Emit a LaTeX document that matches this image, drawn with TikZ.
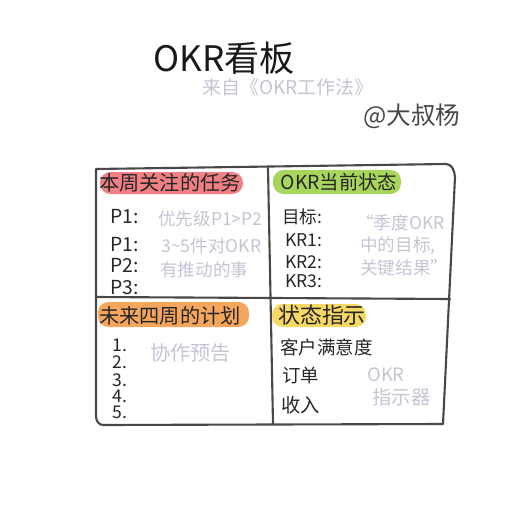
\documentclass[tikz,border=0pt]{standalone}
\usepackage{fontspec}
\setmainfont{Noto Sans CJK SC}
\usetikzlibrary{calc}
\definecolor{inkgrey}{RGB}{72,72,72}
\definecolor{pale}{RGB}{196,196,212}
\definecolor{hlred}{RGB}{241,128,132}
\definecolor{hlgreen}{RGB}{168,214,92}
\definecolor{hlorange}{RGB}{246,166,92}
\definecolor{hlyellow}{RGB}{246,216,100}
\def\fs#1{\fontsize{#1}{#1}\selectfont}
\tikzset{
  frameline/.style={line width=1.2pt, color=inkgrey, line join=round, line cap=round},
  hint/.style={text=pale, inner sep=0pt, anchor=west},
  item/.style={text=black!85, inner sep=0pt, anchor=west},
  marker/.style={rounded corners=6pt},
}

\begin{document}
\begin{tikzpicture}[x=0.02cm, y=-0.02cm]
		\useasboundingbox (0,0) rectangle (513,513);
		%%%%% START %%%%%
		
		\node[inner sep=0pt, text=black!90] (title) at (224,58) {\fs{20pt}OKR看板};
		\node[inner sep=0pt, text=pale] (source) at (288,87) {\fs{10.8pt}来自《OKR工作法》};
		\node[inner sep=0pt, text=inkgrey] (author) at (412,116) {\fs{14pt}@大叔杨};
		
		\draw[frameline] (96,169) -- (446,164) to[out=0,in=95] (455,177) -- (443,424)
			-- (103,425) to[out=180,in=-85] (96,417) -- cycle;
		\draw[frameline] (268,168) -- (273,424);
		\draw[frameline] (96,297) -- (450,299);
		
		\fill[hlred, marker] (100,172) rectangle (243,194);
		\fill[hlgreen, marker] (273,170) rectangle (401,194);
		\fill[hlorange, marker] (98,302) rectangle (249,327);
		\fill[hlyellow, marker] (272,304) rectangle (366,327);
		
		\node[inner sep=0pt, text=black!85] (weekhead) at (170,183) {\fs{11.5pt}本周关注的任务};
		\node[inner sep=0pt, text=black!85] (statehead) at (339,182) {\fs{11pt}OKR当前状态};
		\node[inner sep=0pt, text=black!85] (planhead) at (170,316) {\fs{11.5pt}未来四周的计划};
		\node[inner sep=0pt, text=black!85] (signhead) at (322,315) {\fs{12.5pt}状态指示};
		
		\node[item] (p1a) at (110,217) {\fs{11pt}P1:};
		\node[item] (p1b) at (110,245) {\fs{11pt}P1:};
		\node[item] (p2) at (110,266) {\fs{11pt}P2:};
		\node[item] (p3) at (110,288) {\fs{11pt}P3:};
		\node[hint] (prio) at (158,219) {\fs{10pt}优先级P1>P2};
		\node[hint] (few) at (161,246) {\fs{10pt}3\textasciitilde5件对OKR};
		\node[hint] (push) at (160,270) {\fs{10pt}有推动的事};
		
		\node[item] (goal) at (282,217) {\fs{10pt}目标:};
		\node[item] (kr1) at (285,240) {\fs{10pt}KR1:};
		\node[item] (kr2) at (285,262) {\fs{10pt}KR2:};
		\node[item] (kr3) at (285,281) {\fs{10pt}KR3:};
		\node[hint] (quarter) at (356,223) {\fs{10pt}“季度OKR};
		\node[hint] (target) at (360,246) {\fs{10pt}中的目标,};
		\node[hint] (keyres) at (360,268) {\fs{10pt}关键结果”};
		
		\node[item] (n1) at (112,345) {\fs{10pt}1.};
		\node[item] (n2) at (112,362) {\fs{10pt}2.};
		\node[item] (n3) at (112,380) {\fs{10pt}3.};
		\node[item] (n4) at (112,396) {\fs{10pt}4.};
		\node[item] (n5) at (112,412) {\fs{10pt}5.};
		\node[hint] (coop) at (150,353) {\fs{11.5pt}协作预告};
		
		\node[item] (satis) at (280,347) {\fs{10.5pt}客户满意度};
		\node[item] (order) at (282,376) {\fs{10.5pt}订单};
		\node[item] (income) at (281,405) {\fs{11pt}收入};
		\node[hint] (okrsign) at (367,375) {\fs{10.5pt}OKR};
		\node[hint] (indicator) at (372,397) {\fs{11pt}指示器};
		
		%%%%% END %%%%%
	\end{tikzpicture}
\end{document}
